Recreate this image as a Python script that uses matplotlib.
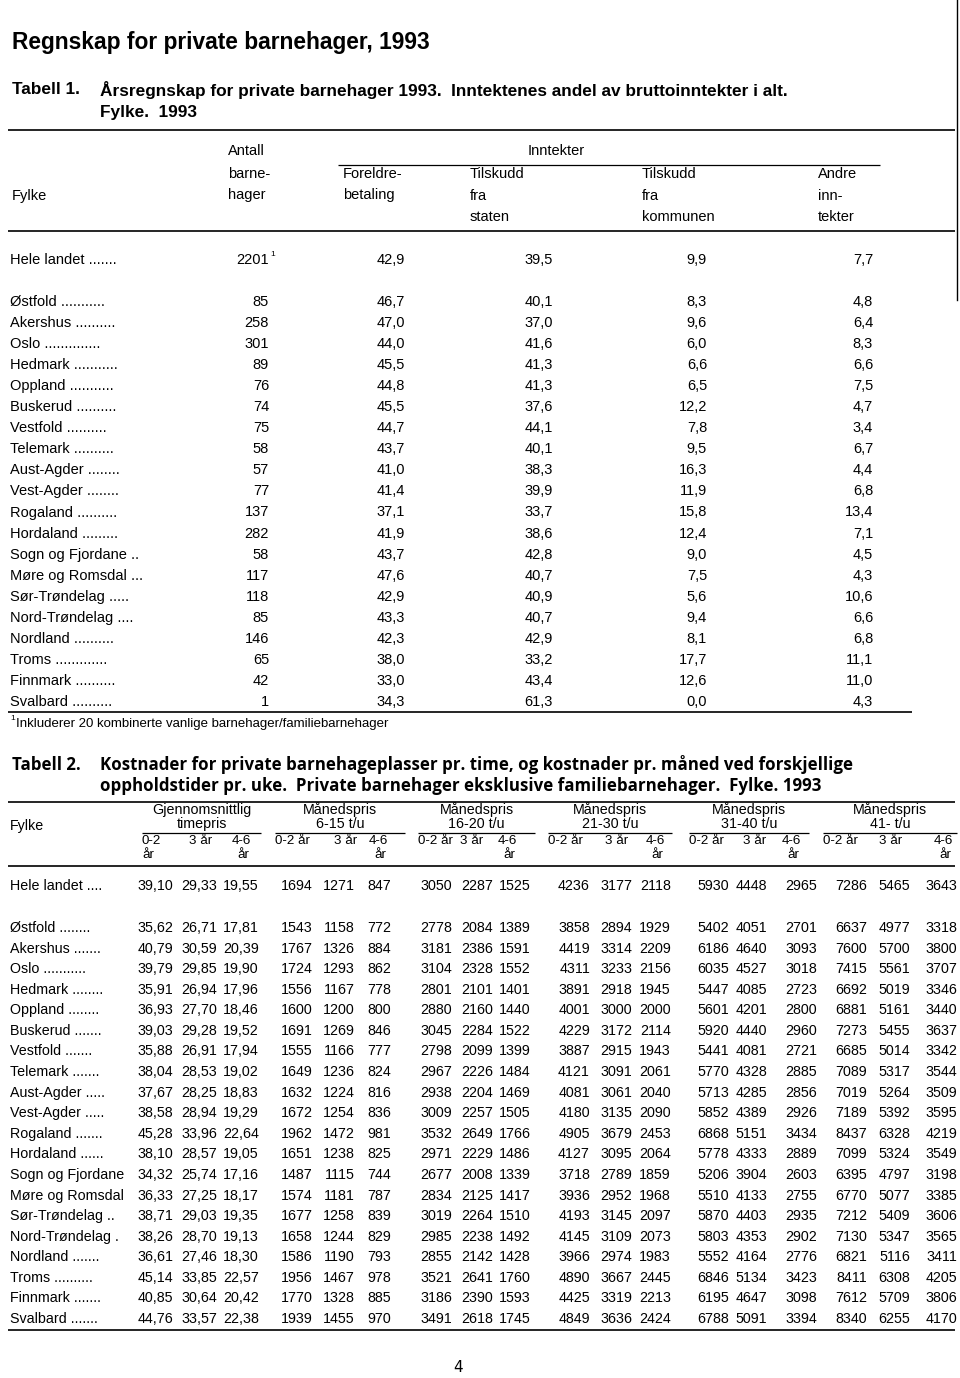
import matplotlib
matplotlib.use("Agg")
from matplotlib import pyplot as plt

# Tabell 1: inntektenes andel (prosent), fylke
fylker_t1 = ["Hele landet .......", "Østfold ...........", "Akershus ..........", "Oslo ..............",
             "Hedmark ...........", "Oppland ...........", "Buskerud ..........", "Vestfold ..........",
             "Telemark ..........", "Aust-Agder ........", "Vest-Agder ........", "Rogaland ..........",
             "Hordaland .........", "Sogn og Fjordane ..", "Møre og Romsdal ...", "Sør-Trøndelag .....",
             "Nord-Trøndelag ....", "Nordland ..........", "Troms .............", "Finnmark ..........",
             "Svalbard .........."]
antall = [2201, 85, 258, 301, 89, 76, 74, 75, 58, 57, 77, 137, 282, 58, 117, 118, 85, 146, 65, 42, 1]
foreldre = [42.9, 46.7, 47.0, 44.0, 45.5, 44.8, 45.5, 44.7, 43.7, 41.0, 41.4, 37.1, 41.9, 43.7, 47.6,
            42.9, 43.3, 42.3, 38.0, 33.0, 34.3]
staten = [39.5, 40.1, 37.0, 41.6, 41.3, 41.3, 37.6, 44.1, 40.1, 38.3, 39.9, 33.7, 38.6, 42.8, 40.7,
          40.9, 40.7, 42.9, 33.2, 43.4, 61.3]
kommunen = [9.9, 8.3, 9.6, 6.0, 6.6, 6.5, 12.2, 7.8, 9.5, 16.3, 11.9, 15.8, 12.4, 9.0, 7.5,
            5.6, 9.4, 8.1, 17.7, 12.6, 0.0]
andre = [7.7, 4.8, 6.4, 8.3, 6.6, 7.5, 4.7, 3.4, 6.7, 4.4, 6.8, 13.4, 7.1, 4.5, 4.3,
         10.6, 6.6, 6.8, 11.1, 11.0, 4.3]

# Tabell 2: kostnader, kolonner 0-2 år, 3 år, 4-6 år
fylker_t2 = ["Hele landet ....", "Østfold ........", "Akershus .......", "Oslo ...........",
             "Hedmark ........", "Oppland ........", "Buskerud .......", "Vestfold .......",
             "Telemark .......", "Aust-Agder .....", "Vest-Agder .....", "Rogaland .......",
             "Hordaland ......", "Sogn og Fjordane", "Møre og Romsdal", "Sør-Trøndelag ..",
             "Nord-Trøndelag .", "Nordland .......", "Troms ..........", "Finnmark .......",
             "Svalbard ......."]
timepris = [[39.10, 29.33, 19.55], [35.62, 26.71, 17.81], [40.79, 30.59, 20.39], [39.79, 29.85, 19.90],
            [35.91, 26.94, 17.96], [36.93, 27.70, 18.46], [39.03, 29.28, 19.52], [35.88, 26.91, 17.94],
            [38.04, 28.53, 19.02], [37.67, 28.25, 18.83], [38.58, 28.94, 19.29], [45.28, 33.96, 22.64],
            [38.10, 28.57, 19.05], [34.32, 25.74, 17.16], [36.33, 27.25, 18.17], [38.71, 29.03, 19.35],
            [38.26, 28.70, 19.13], [36.61, 27.46, 18.30], [45.14, 33.85, 22.57], [40.85, 30.64, 20.42],
            [44.76, 33.57, 22.38]]
pris_6_15 = [[1694, 1271, 847], [1543, 1158, 772], [1767, 1326, 884], [1724, 1293, 862],
             [1556, 1167, 778], [1600, 1200, 800], [1691, 1269, 846], [1555, 1166, 777],
             [1649, 1236, 824], [1632, 1224, 816], [1672, 1254, 836], [1962, 1472, 981],
             [1651, 1238, 825], [1487, 1115, 744], [1574, 1181, 787], [1677, 1258, 839],
             [1658, 1244, 829], [1586, 1190, 793], [1956, 1467, 978], [1770, 1328, 885],
             [1939, 1455, 970]]
pris_16_20 = [[3050, 2287, 1525], [2778, 2084, 1389], [3181, 2386, 1591], [3104, 2328, 1552],
              [2801, 2101, 1401], [2880, 2160, 1440], [3045, 2284, 1522], [2798, 2099, 1399],
              [2967, 2226, 1484], [2938, 2204, 1469], [3009, 2257, 1505], [3532, 2649, 1766],
              [2971, 2229, 1486], [2677, 2008, 1339], [2834, 2125, 1417], [3019, 2264, 1510],
              [2985, 2238, 1492], [2855, 2142, 1428], [3521, 2641, 1760], [3186, 2390, 1593],
              [3491, 2618, 1745]]
pris_21_30 = [[4236, 3177, 2118], [3858, 2894, 1929], [4419, 3314, 2209], [4311, 3233, 2156],
              [3891, 2918, 1945], [4001, 3000, 2000], [4229, 3172, 2114], [3887, 2915, 1943],
              [4121, 3091, 2061], [4081, 3061, 2040], [4180, 3135, 2090], [4905, 3679, 2453],
              [4127, 3095, 2064], [3718, 2789, 1859], [3936, 2952, 1968], [4193, 3145, 2097],
              [4145, 3109, 2073], [3966, 2974, 1983], [4890, 3667, 2445], [4425, 3319, 2213],
              [4849, 3636, 2424]]
pris_31_40 = [[5930, 4448, 2965], [5402, 4051, 2701], [6186, 4640, 3093], [6035, 4527, 3018],
              [5447, 4085, 2723], [5601, 4201, 2800], [5920, 4440, 2960], [5441, 4081, 2721],
              [5770, 4328, 2885], [5713, 4285, 2856], [5852, 4389, 2926], [6868, 5151, 3434],
              [5778, 4333, 2889], [5206, 3904, 2603], [5510, 4133, 2755], [5870, 4403, 2935],
              [5803, 4353, 2902], [5552, 4164, 2776], [6846, 5134, 3423], [6195, 4647, 3098],
              [6788, 5091, 3394]]
pris_41 = [[7286, 5465, 3643], [6637, 4977, 3318], [7600, 5700, 3800], [7415, 5561, 3707],
           [6692, 5019, 3346], [6881, 5161, 3440], [7273, 5455, 3637], [6685, 5014, 3342],
           [7089, 5317, 3544], [7019, 5264, 3509], [7189, 5392, 3595], [8437, 6328, 4219],
           [7099, 5324, 3549], [6395, 4797, 3198], [6770, 5077, 3385], [7212, 5409, 3606],
           [7130, 5347, 3565], [6821, 5116, 3411], [8411, 6308, 4205], [7612, 5709, 3806],
           [8340, 6255, 4170]]
grupper = [("Gjennomsnittlig", "timepris"), ("Månedspris", "6-15 t/u"), ("Månedspris", "16-20 t/u"),
           ("Månedspris", "21-30 t/u"), ("Månedspris", "31-40 t/u"), ("Månedspris", "41- t/u")]

SANS = ["Liberation Sans", "DejaVu Sans"]
NARROW = ["Liberation Sans Narrow", "Liberation Sans", "DejaVu Sans"]
HEAD2 = ["Open Sans", "DejaVu Sans"]


def komma(v, d):
    return f"{v:.{d}f}".replace(".", ",")


fig = plt.figure(figsize=(9.6, 13.78), dpi=100)
ax = fig.add_axes([0, 0, 1, 1])
ax.set_xlim(0, 960)
ax.set_ylim(1378, 0)
ax.axis("off")


def txt(x, y, s, size=10, ha="left", fam=SANS, weight="normal", va="center"):
    ax.text(x, y, s, fontsize=size, ha=ha, va=va, family=fam, weight=weight, color="black")


def rule(x0, x1, y, lw=1.2):
    ax.plot([x0, x1], [y, y], color="black", lw=lw, solid_capstyle="butt")


# scan edge
ax.plot([957, 957], [0, 300], color="black", lw=1.0)

# Page title and Tabell 1 heading
txt(12, 42, "Regnskap for private barnehager, 1993", size=16.4, fam=NARROW, weight="bold")
txt(12, 90, "Tabell 1.", size=12.4, fam=NARROW, weight="bold")
txt(100, 90, "Årsregnskap for private barnehager 1993.  Inntektenes andel av bruttoinntekter i alt.",
    size=12.4, fam=NARROW, weight="bold")
txt(100, 112, "Fylke.  1993", size=12.4, fam=NARROW, weight="bold")

rule(8, 955, 130)
txt(228, 151, "Antall", size=10.5, fam=NARROW)
txt(556, 151, "Inntekter", size=10.5, fam=NARROW, ha="center")
rule(338, 880, 165, lw=0.9)
for x, lines in [(228, ["barne-", "hager", ""]), (343, ["Foreldre-", "betaling", ""]),
                 (470, ["Tilskudd", "fra", "staten"]), (642, ["Tilskudd", "fra", "kommunen"]),
                 (818, ["Andre", "inn-", "tekter"])]:
    for k, s in enumerate(lines):
        txt(x, 174 + 21.5 * k, s, size=10.5, fam=NARROW)
txt(12, 196, "Fylke", size=10.5, fam=NARROW)
rule(8, 955, 231)

# Tabell 1 rows
for i, navn in enumerate(fylker_t1):
    y = 260 if i == 0 else 302 + 21.05 * (i - 1)
    txt(10, y, navn, size=10.5)
    txt(269, y, str(antall[i]), ha="right", size=10.5)
    txt(405, y, komma(foreldre[i], 1), ha="right", size=10.5)
    txt(553, y, komma(staten[i], 1), ha="right", size=10.5)
    txt(707, y, komma(kommunen[i], 1), ha="right", size=10.5)
    txt(873, y, komma(andre[i], 1), ha="right", size=10.5)
txt(270, 254, "1", size=6)
rule(8, 912, 712)
txt(10, 718, "1", size=6)
txt(16, 724, "Inkluderer 20 kombinerte vanlige barnehager/familiebarnehager", size=9.5, fam=NARROW)

# Tabell 2 heading
txt(12, 765, "Tabell 2.", size=12.2, fam=HEAD2, weight="bold")
txt(100, 765, "Kostnader for private barnehageplasser pr. time, og kostnader pr. måned ved forskjellige",
    size=12.2, fam=HEAD2, weight="bold")
txt(100, 786, "oppholdstider pr. uke.  Private barnehager eksklusive familiebarnehager.  Fylke. 1993",
    size=12.2, fam=HEAD2, weight="bold")
rule(8, 955, 802)
txt(10, 826, "Fylke", size=10.3)

# group headers: underline span and right edges of the three value columns
spans = [(142, 261), (275, 405), (418, 535), (548, 672), (689, 809), (823, 957)]
col_right = [(173, 217, 259), (313, 355, 391), (452, 493, 531),
             (590, 632, 671), (729, 767, 817), (867, 910, 957)]
sub_right = [(157, 212, 251), (310, 357, 388), (448, 483, 517),
             (585, 628, 665), (726, 766, 801), (860, 902, 953)]
for g, (l1, l2) in enumerate(grupper):
    x0, x1 = spans[g]
    xc = (x0 + x1) / 2
    txt(xc, 810, l1, ha="center", size=10.3)
    txt(xc, 824, l2, ha="center", size=10.3)
    rule(x0, x1, 833, lw=0.9)
    r = sub_right[g]
    if g == 0:
        txt(x0, 841, "0-2", size=9.6)
        txt(x0, 855, "år", size=9.6)
    else:
        txt(x0, 841, "0-2 år", size=9.6)
    txt(r[1], 841, "3 år", ha="right", size=9.6)
    txt(r[2], 841, "4-6", ha="right", size=9.6)
    txt(r[2] - 2, 855, "år", ha="right", size=9.6)
rule(8, 955, 866)

tabell2 = [timepris, pris_6_15, pris_16_20, pris_21_30, pris_31_40, pris_41]
for i, navn in enumerate(fylker_t2):
    y = 886 if i == 0 else 928 + 20.58 * (i - 1)
    txt(10, y, navn, size=10.3)
    for g, data in enumerate(tabell2):
        for c in range(3):
            v = data[i][c]
            s = komma(v, 2) if g == 0 else str(v)
            txt(col_right[g][c], y, s, ha="right", size=10.3)
rule(8, 955, 1330)

txt(458, 1368, "4", size=11, fam=["DejaVu Sans"], ha="center")

fig.savefig("out.png", dpi=100)
